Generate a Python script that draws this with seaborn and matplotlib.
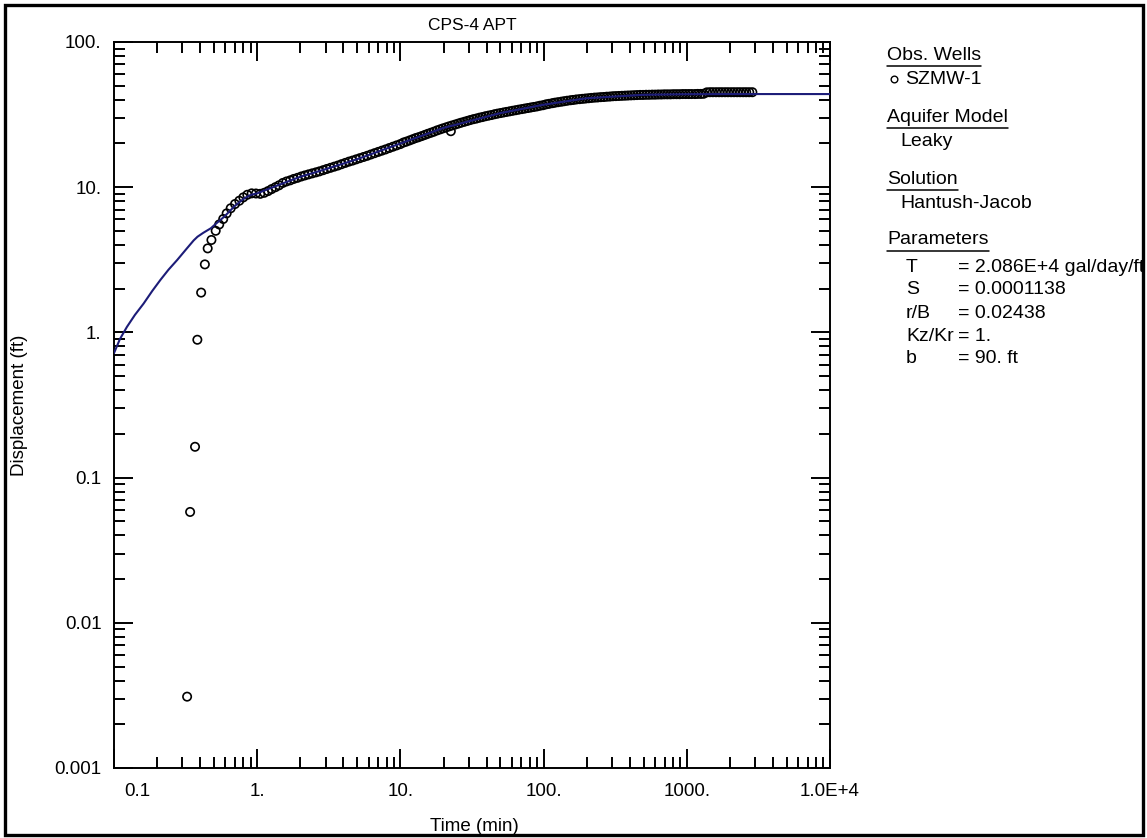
import matplotlib
matplotlib.use("Agg")
import matplotlib.pyplot as plt
import matplotlib.transforms as mtransforms
import seaborn as sns
import numpy as np
import pandas as pd
from matplotlib.lines import Line2D
from matplotlib.patches import Rectangle

# ---------------- data ----------------
obs_time = [
    0.324, 0.340, 0.368, 0.382, 0.406, 0.431, 0.451, 0.479, 0.513, 0.543,
    0.579, 0.612, 0.653, 0.700, 0.750, 0.800, 0.853, 0.915,
    0.98, 1.05, 1.12, 1.19, 1.26, 1.34, 1.42, 1.51, 1.60, 1.70,
    1.80, 1.91, 2.03, 2.15, 2.28, 2.42, 2.57, 2.72, 2.89, 3.06,
    3.25, 3.45, 3.66, 3.88, 4.12, 4.37, 4.63, 4.91, 5.21, 5.53,
    5.86, 6.22, 6.60, 7.00, 7.42, 7.87, 8.35, 8.86, 9.40, 9.97,
    10.5, 11.0, 11.6, 12.2, 12.8, 13.4, 14.1, 14.8, 15.5, 16.3,
    17.1, 18.0, 18.9, 19.8, 20.8, 21.8, 22.5, 22.9, 24.1, 25.3, 26.5,
    27.9, 29.3, 30.7, 32.3, 33.9, 35.6, 37.3, 39.2, 41.2, 43.2,
    45.4, 47.6, 50.0, 52.5, 55.1, 57.9, 60.8, 63.8, 67.0, 70.4,
    73.9, 77.6, 81.4, 85.5, 89.8, 94.3, 99.0,
    104, 109, 115, 120, 126, 133, 139, 146, 154, 161,
    169, 178, 187, 196, 206, 216, 227, 238, 250, 263,
    276, 290, 304, 319, 335, 352, 370, 388, 408, 428,
    449, 472, 495, 520, 546, 574, 602, 632, 664, 697,
    732, 769, 807, 848, 890, 935, 981, 1030, 1080, 1140,
    1190, 1250, 1310, 1380, 1450, 1520, 1600, 1680, 1760, 1850,
    1940, 2040, 2140, 2250, 2360, 2480, 2600, 2730, 2870,
]
obs_disp = [
    0.0031, 0.058, 0.163, 0.89, 1.88, 2.94, 3.79, 4.33, 5.01, 5.54,
    6.04, 6.60, 7.16, 7.66, 8.07, 8.51, 8.87, 9.07,
    9.05, 9.00, 9.15, 9.40, 9.70, 10.0, 10.3, 10.7, 10.95, 11.15,
    11.4, 11.6, 11.85, 12.05, 12.25, 12.45, 12.65, 12.85, 13.1, 13.35,
    13.6, 13.85, 14.1, 14.4, 14.7, 15.0, 15.25, 15.55, 15.85, 16.15,
    16.45, 16.8, 17.15, 17.5, 17.85, 18.2, 18.6, 19.0, 19.4, 19.8,
    20.3, 20.6, 21.0, 21.4, 21.8, 22.1, 22.5, 22.9, 23.3, 23.7,
    24.1, 24.6, 25.0, 25.4, 25.8, 26.2, 24.3, 26.6, 27.0, 27.4, 27.8,
    28.2, 28.6, 29.0, 29.4, 29.7, 30.1, 30.4, 30.8, 31.1, 31.4,
    31.8, 32.1, 32.4, 32.7, 33.0, 33.3, 33.6, 33.9, 34.2, 34.5,
    34.8, 35.1, 35.4, 35.7, 36.0, 36.4, 36.7,
    37.2, 37.5, 37.9, 38.2, 38.5, 38.8, 39.1, 39.4, 39.7, 39.9,
    40.2, 40.4, 40.6, 40.8, 41.0, 41.2, 41.4, 41.5, 41.7, 41.8,
    42.0, 42.1, 42.3, 42.4, 42.5, 42.6, 42.7, 42.8, 42.9, 43.0,
    43.1, 43.2, 43.2, 43.3, 43.3, 43.4, 43.4, 43.5, 43.5, 43.6,
    43.6, 43.6, 43.7, 43.7, 43.7, 43.8, 43.8, 43.8, 43.8, 43.8,
    43.9, 43.9, 44.0, 45.0, 45.1, 45.1, 45.1, 45.1, 45.1, 45.1,
    45.1, 45.1, 45.1, 45.1, 45.1, 45.1, 45.1, 45.1, 45.1,
]

model_time = [0.1, 0.11, 0.123, 0.14, 0.161, 0.185, 0.211, 0.24, 0.276, 0.32,
              0.36, 0.383, 0.42, 0.474, 0.52, 0.589, 0.70, 0.814, 0.9, 1.0,
              1.5, 2.0, 3.0, 5.0, 10.0, 20.0, 50.0, 100.0, 200.0,
              500.0, 1000.0, 2000.0, 10000.0]
model_disp = [0.72, 0.90, 1.09, 1.32, 1.58, 1.93, 2.30, 2.70, 3.15, 3.75,
              4.30, 4.56, 4.85, 5.21, 5.65, 6.27, 7.45, 8.39, 8.85, 9.07,
              10.6, 11.8, 13.3, 15.6, 20.0, 25.6, 32.4, 37.0, 41.0,
              43.3, 43.7, 43.8, 43.8]

x_ticks = [0.1, 1, 10, 100, 1000, 10000]
x_tick_labels = ["0.1", "1.", "10.", "100.", "1000.", "1.0E+4"]
y_ticks = [0.001, 0.01, 0.1, 1, 10, 100]
y_tick_labels = ["0.001", "0.01", "0.1", "1.", "10.", "100."]

title_text = "CPS-4 APT"
x_label = "Time (min)"
y_label = "Displacement (ft)"

legend_items = [
    ("head", "Obs. Wells"),
    ("well", "SZMW-1"),
    ("head", "Aquifer Model"),
    ("item", "Leaky"),
    ("head", "Solution"),
    ("item", "Hantush-Jacob"),
    ("head", "Parameters"),
]
param_names = ["T", "S", "r/B", "Kz/Kr", "b"]
param_values = ["= 2.086E+4 gal/day/ft", "= 0.0001138", "= 0.02438", "= 1.", "= 90. ft"]

# ---------------- styling ----------------
sns.set_theme(style="white")
plt.rcParams["font.family"] = ["Liberation Sans", "DejaVu Sans"]
plt.rcParams["axes.edgecolor"] = "black"

W, H = 1147, 838
fig = plt.figure(figsize=(W / 100, H / 100), dpi=100)
fig.patch.set_facecolor("white")

def fx(px):
    return px / W

def fy(py):
    return 1 - py / H

ax = fig.add_axes([fx(114), fy(768), fx(830) - fx(114), fy(42) - fy(768)])
ax.set_facecolor("white")

obs_df = pd.DataFrame({"time": obs_time, "disp": obs_disp})
model_df = pd.DataFrame({"time": model_time, "disp": model_disp})

sns.scatterplot(data=obs_df, x="time", y="disp", ax=ax, marker="o",
                s=36, facecolor="none", edgecolor="black", linewidth=1.2,
                zorder=2, legend=False)
sns.lineplot(data=model_df, x="time", y="disp", ax=ax, color="#1c1c78",
             linewidth=1.5, sort=False, estimator=None, zorder=3, legend=False)

ax.set_xscale("log")
ax.set_yscale("log")
ax.set_xlim(0.1, 10000)
ax.set_ylim(0.001, 100)
ax.set_xlabel("")
ax.set_ylabel("")

ax.set_xticks(x_ticks)
ax.set_xticklabels(x_tick_labels)
ax.set_yticks(y_ticks)
ax.set_yticklabels(y_tick_labels)
ax.xaxis.set_minor_locator(matplotlib.ticker.LogLocator(base=10, subs=range(2, 10), numticks=20))
ax.yaxis.set_minor_locator(matplotlib.ticker.LogLocator(base=10, subs=range(2, 10), numticks=20))
ax.xaxis.set_minor_formatter(matplotlib.ticker.NullFormatter())
ax.yaxis.set_minor_formatter(matplotlib.ticker.NullFormatter())

ax.tick_params(which="both", direction="in", top=True, right=True,
               bottom=True, left=True, color="black", width=1.4)
ax.tick_params(which="major", length=14, labelsize=13.5, labelcolor="black")
ax.tick_params(axis="x", which="major", pad=11)
ax.tick_params(axis="y", which="major", pad=9)
ax.tick_params(which="minor", length=8)
for sp in ax.spines.values():
    sp.set_linewidth(1.4)
    sp.set_color("black")
# first x label sits to the right of its tick, as in the reference
xlabels = ax.get_xticklabels()
xlabels[0].set_horizontalalignment("left")
xlabels[0].set_transform(xlabels[0].get_transform() +
                         mtransforms.ScaledTranslation(10 / 100, 0, fig.dpi_scale_trans))

fig.text(fx(472), fy(25), title_text, ha="center", va="center", fontsize=12.5, color="black")
fig.text(fx(474), fy(826), x_label, ha="center", va="center", fontsize=13.5, color="black")
fig.text(fx(20), fy(405), y_label, ha="center", va="center", rotation=90, fontsize=13.5, color="black")

# ---------------- legend panel ----------------
fs = 14
y_pos = [55, 79, 117, 142, 179, 204, 240]
fig.canvas.draw()
renderer = fig.canvas.get_renderer()
for (kind, txt), yp in zip(legend_items, y_pos):
    if kind == "head":
        t = fig.text(fx(887), fy(yp), txt, ha="left", va="center", fontsize=fs, color="black")
        bb = t.get_window_extent(renderer=renderer)
        fig.add_artist(Line2D([fx(887), fx(887) + bb.width / W], [fy(yp + 11), fy(yp + 11)],
                              transform=fig.transFigure, color="black", linewidth=1.1))
    elif kind == "well":
        fig.add_artist(Line2D([fx(894)], [fy(yp)], transform=fig.transFigure, marker="o",
                              markersize=4.8, markerfacecolor="none", markeredgecolor="black",
                              markeredgewidth=1.0, linestyle="none"))
        fig.text(fx(905), fy(yp), txt, ha="left", va="center", fontsize=fs, color="black")
    else:
        fig.text(fx(900), fy(yp), txt, ha="left", va="center", fontsize=fs, color="black")

p_y = [268, 290, 313, 336, 358]
for name, val, yp in zip(param_names, param_values, p_y):
    fig.text(fx(906), fy(yp), name, ha="left", va="center", fontsize=fs, color="black")
    fig.text(fx(958), fy(yp), val, ha="left", va="center", fontsize=fs, color="black")

# outer frame
fig.add_artist(Rectangle((fx(5), fy(835)), fx(1143) - fx(5), fy(5) - fy(835),
                         transform=fig.transFigure, fill=False, edgecolor="black", linewidth=2.4,
                         zorder=10))

fig.savefig("out.png", dpi=100, facecolor="white")
